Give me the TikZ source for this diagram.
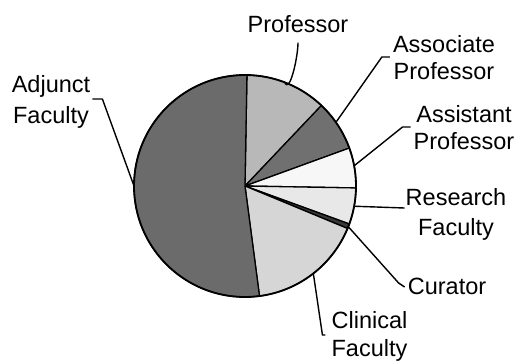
\documentclass[tikz,border=0pt]{standalone}
\usepackage{fontspec}
\setmainfont{Liberation Sans}
\definecolor{cprof}{gray}{0.72}
\definecolor{cassoc}{gray}{0.44}
\definecolor{cassist}{gray}{0.97}
\definecolor{cres}{gray}{0.91}
\definecolor{ccur}{gray}{0.22}
\definecolor{cclin}{gray}{0.84}
\definecolor{cadj}{gray}{0.42}
\tikzset{
  slicestyle/.style={draw=black,line width=1.3pt,line join=round},
  rim/.style={draw=black,line width=1.8pt},
  leader/.style={draw=black,line width=1.4pt,line join=round},
  lbl/.style={inner sep=0pt,align=center,anchor=north,text=black},
}
\newcommand\pieslice[3]{\filldraw[slicestyle,fill=#3] (C) -- ++(#1:\R) arc[start angle=#1,end angle=#2,radius=\R] -- cycle;}
\begin{document}
\begin{tikzpicture}[x=1pt,y=1pt]
\useasboundingbox (0,0) rectangle (518,-362);
\coordinate (C) at (245,-186);
\def\R{111}
% slices
\pieslice{89}{46.5}{cprof}
\pieslice{46.5}{20}{cassoc}
\pieslice{20}{-1}{cassist}
\pieslice{-1}{-20}{cres}
\pieslice{-20}{-22.5}{ccur}
\pieslice{-22.5}{-82.5}{cclin}
\pieslice{-82.5}{-271}{cadj}
\draw[rim] (C) circle[radius=\R];
% points on rim
\coordinate (pAdj) at ([shift={(180:\R)}]C);
\coordinate (pProf) at ([shift={(69:\R)}]C);
\coordinate (pAsso) at ([shift={(35:\R)}]C);
\coordinate (pAssi) at ([shift={(10.5:\R)}]C);
\coordinate (pRes) at ([shift={(-10.5:\R)}]C);
\coordinate (pCur) at ([shift={(-21.5:\R)}]C);
\coordinate (pClin) at ([shift={(-52:\R)}]C);
% labels
\node[lbl,font=\fontsize{23.5}{31}\selectfont] (adj) at (51,-75) {Adjunct\\Faculty};
\node[lbl,font=\fontsize{23.5}{28}\selectfont] (prof) at (298,-15) {Professor};
\node[lbl,font=\fontsize{23.5}{27}\selectfont] (asso) at (444,-35) {Associate\\Professor};
\node[lbl,font=\fontsize{23.5}{27}\selectfont] (assi) at (464,-105) {Assistant\\Professor};
\node[lbl,font=\fontsize{23.5}{30}\selectfont] (res) at (456,-188) {Research\\Faculty};
\node[lbl,font=\fontsize{23.5}{28}\selectfont] (cur) at (447,-278) {Curator};
\node[lbl,font=\fontsize{23.5}{28}\selectfont] (clin) at (369.5,-311) {Clinical\\Faculty};
% leaders
\draw[leader] ([xshift=2pt]adj.east |- 0,-99) -- ++(10,0) -- (pAdj);
\draw[leader] ([yshift=-10pt]prof.south) .. controls +(0,-14) and +(5,-12) .. (pProf);
\draw[leader] ([xshift=-3pt]asso.west |- 0,-57) -- ++(-8,0) -- (pAsso);
\draw[leader] ([xshift=-3pt]assi.west |- 0,-127) -- ++(-8,0) -- (pAssi);
\draw[leader] ([xshift=-1pt]res.west |- 0,-208) -- (pRes);
\draw[leader] ([xshift=-3pt]cur.west |- 0,-287) -- ++(-6,4) -- (pCur);
\draw[leader] ([xshift=-6pt]clin.west |- 0,-335) -- ++(-3,0) -- (pClin);
\end{tikzpicture}
\end{document}
